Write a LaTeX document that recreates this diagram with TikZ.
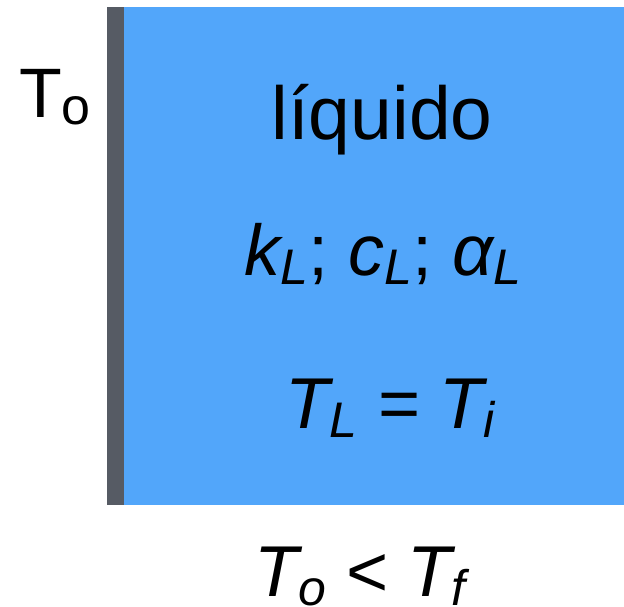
\documentclass[tikz,border=0pt]{standalone}
\usepackage{fontspec}
\setmainfont{Liberation Sans}
\definecolor{wallgray}{HTML}{565B64}
\definecolor{liqblue}{HTML}{52A6FA}
\newcommand{\sbs}[1]{\raisebox{-9pt}{\fontsize{50}{52}\selectfont #1}}
\begin{document}
\begin{tikzpicture}[x=1pt,y=-1pt,
  big/.style={inner sep=0pt,anchor=base,font=\fontsize{72}{78}\selectfont}]
\useasboundingbox (0,0) rectangle (624,607);
\fill[liqblue] (124,7) rectangle (624,505);
\fill[wallgray] (107,7) rectangle (124,505);
\node[big,font=\fontsize{70}{76}\selectfont,anchor=base west] (to) at (19,118) {T\raisebox{-7pt}{\fontsize{52}{54}\selectfont o}};
\node[big,font=\fontsize{75}{80}\selectfont] (liq) at (382,140) {líquido};
\node[big] (props) at (383,275) {\itshape k\sbs{L}{\upshape;} c\sbs{L}{\upshape;} α\sbs{L}};
\node[big] (tl) at (390,428) {\itshape T\sbs{L} = T\sbs{i}};
\node[big] (cond) at (360,596) {\itshape T\sbs{o} < T\sbs{f}};
\end{tikzpicture}
\end{document}
